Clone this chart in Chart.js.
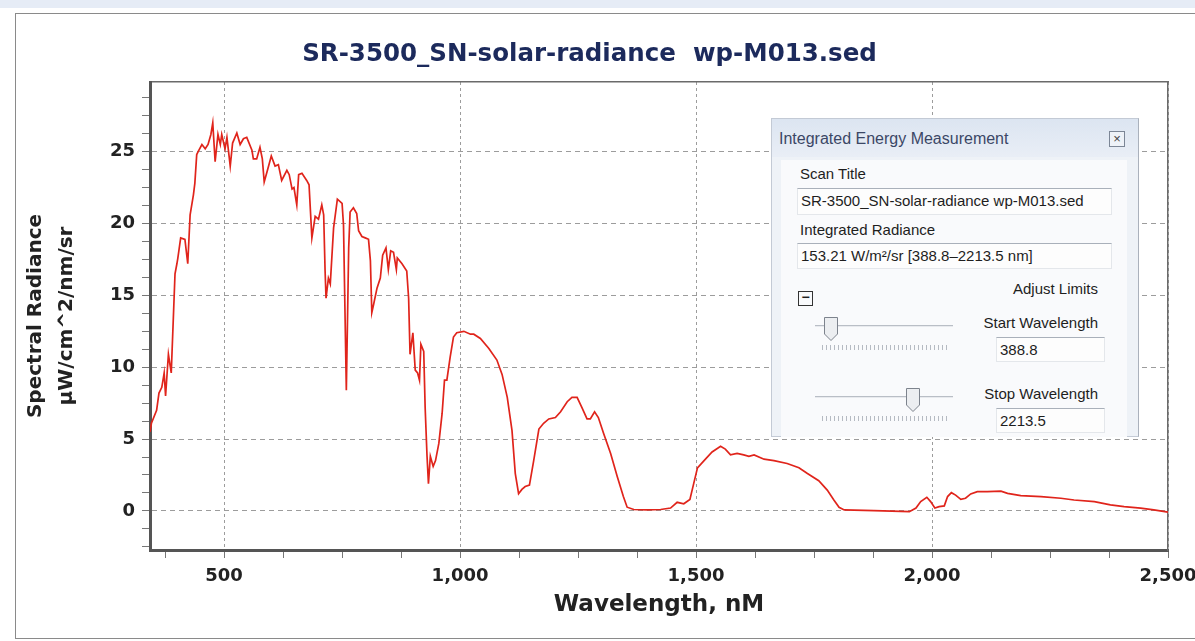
<!DOCTYPE html>
<html>
<head>
<meta charset="utf-8">
<script src="https://cdn.jsdelivr.net/npm/chart.js@4.4.1/dist/chart.umd.min.js"></script>
<style>
  html, body { margin: 0; padding: 0; background: #fff; }
  body { width: 1195px; height: 641px; position: relative; overflow: hidden; }
  .abs { position: absolute; }
  #band { left: 0; top: 0; width: 1195px; height: 8px; background: #e6ecf6; }
  #frame { left: 15px; top: 13px; width: 1200px; height: 624px; border: 1px solid #8a8a8a; background: #fff; }
  #c { position: absolute; left: 0; top: 0; }
  .ui { font-family: "Liberation Sans", Arial, sans-serif; font-size: 15px; color: #1e1e1e; white-space: nowrap; }
  .box { background: #fdfdfd; border: 1px solid #e4e7eb; border-top: 1px solid #a9b0ba; box-sizing: border-box; padding-left: 3px; line-height: 24px; }
  .track { height: 1px; background: #b9bec6; border-bottom: 1px solid #e8eaee; }
  .dots { height: 5px; background: repeating-linear-gradient(90deg, #b5bac2 0 1px, transparent 1px 4px); }
</style>
</head>
<body>
<div id="band" class="abs"></div>
<div id="frame" class="abs"></div>
<canvas id="c" width="1195" height="641"></canvas>

<div class="abs" style="left:771px;top:118px;width:368px;height:319px;background:#eef2f7;border:1px solid #c3cad5;border-right-color:#aab1bc;box-sizing:border-box"></div>
<div class="abs" style="left:772px;top:119px;width:366px;height:38px;background:linear-gradient(#dce5f1,#e9eef6)"></div>
<div class="abs ui" style="left:779px;top:130px;font-size:16px;color:#3b4766">Integrated Energy Measurement</div>
<div class="abs ui" style="left:1109px;top:131px;width:16px;height:16px;border:1px solid #7c8696;background:#eef2f8;box-sizing:border-box;text-align:center;line-height:13px;font-size:13px;color:#444">×</div>
<div class="abs" style="left:781px;top:160px;width:346px;height:277px;background:#f9fafc"></div>

<div class="abs ui" style="left:800px;top:165px">Scan Title</div>
<div class="abs ui box" style="left:797px;top:188px;width:315px;height:27px">SR-3500_SN-solar-radiance wp-M013.sed</div>
<div class="abs ui" style="left:800px;top:221px">Integrated Radiance</div>
<div class="abs ui box" style="left:797px;top:243px;width:315px;height:26px">153.21 W/m²/sr [388.8–2213.5 nm]</div>

<div class="abs ui" style="right:97px;top:280px">Adjust Limits</div>
<div class="abs ui" style="left:798px;top:291px;width:15px;height:15px;border:1px solid #333;box-sizing:border-box;text-align:center;line-height:11px;font-size:14px;font-weight:bold">−</div>

<div class="abs track" style="left:815px;top:325px;width:138px"></div>
<svg class="abs" style="left:823px;top:316px" width="16" height="26"><path d="M1.5 1.5 H14.5 V18 L8 24.5 L1.5 18 Z" fill="#eceef1" stroke="#7d838d" stroke-width="1"/></svg>
<div class="abs dots" style="left:822px;top:345px;width:128px"></div>
<div class="abs ui" style="right:97px;top:314px">Start Wavelength</div>
<div class="abs ui box" style="left:996px;top:337px;width:109px;height:25px">388.8</div>

<div class="abs track" style="left:815px;top:396px;width:138px"></div>
<svg class="abs" style="left:905px;top:387px" width="16" height="26"><path d="M1.5 1.5 H14.5 V18 L8 24.5 L1.5 18 Z" fill="#eceef1" stroke="#7d838d" stroke-width="1"/></svg>
<div class="abs dots" style="left:822px;top:416px;width:128px"></div>
<div class="abs ui" style="right:97px;top:385px">Stop Wavelength</div>
<div class="abs ui box" style="left:996px;top:408px;width:109px;height:25px">2213.5</div>

<script>
// spectrum (nm, µW/cm^2/nm/sr)
const wavelengths = [
  343, 346, 357, 362, 368, 373, 376, 382, 388, 393, 396, 400, 402, 408, 417, 423, 428, 435, 438, 442,
  445, 453, 460, 466, 472, 476, 481, 487, 492, 495, 502, 506, 513, 518, 527, 534, 541, 548, 559, 562,
  569, 576, 581, 585, 591, 600, 608, 615, 622, 633, 638, 644, 648, 654, 658, 665, 675, 680, 686, 693,
  700, 707, 711, 714, 716, 721, 725, 732, 740, 750, 753, 759, 764, 767, 774, 781, 785, 792, 799, 806,
  810, 813, 817, 824, 831, 836, 843, 848, 853, 859, 865, 867, 877, 887, 891, 894, 900, 905, 910, 914,
  917, 923, 926, 930, 933, 937, 943, 948, 955, 962, 967, 972, 979, 986, 993, 1008, 1022, 1029, 1043, 1061,
  1078, 1089, 1100, 1110, 1117, 1124, 1131, 1138, 1147, 1156, 1167, 1177, 1188, 1202, 1213, 1227, 1237, 1248, 1258, 1269,
  1276, 1285, 1293, 1304, 1319, 1333, 1346, 1354, 1368, 1396, 1425, 1446, 1460, 1474, 1487, 1495, 1503, 1517, 1534, 1552,
  1562, 1573, 1587, 1601, 1612, 1623, 1644, 1665, 1693, 1718, 1736, 1760, 1778, 1792, 1803, 1814, 1877, 1952, 1966, 1976,
  1989, 1997, 2006, 2015, 2026, 2033, 2041, 2050, 2061, 2071, 2082, 2096, 2117, 2146, 2160, 2188, 2231, 2273, 2301, 2344,
  2378, 2407, 2442, 2470, 2500
];
const radiance = [
  5.5, 6.1, 7.0, 8.2, 8.6, 9.6, 8.0, 10.9, 9.6, 13.9, 16.5, 17.2, 17.6, 19.0, 18.9, 17.2, 20.6, 22.0, 22.8, 24.8,
  25.0, 25.5, 25.2, 25.5, 26.2, 27.0, 24.3, 26.2, 25.5, 26.2, 25.2, 26.0, 24.0, 25.6, 26.3, 25.5, 25.9, 26.0, 25.1, 24.5,
  24.5, 25.3, 24.5, 22.9, 23.6, 24.7, 24.0, 24.1, 23.0, 23.7, 23.4, 22.4, 22.5, 21.3, 23.4, 23.5, 23.0, 22.7, 19.0, 20.5,
  20.3, 21.3, 20.6, 16.7, 14.8, 16.2, 15.8, 19.7, 21.7, 21.4, 19.9, 8.4, 18.3, 20.8, 21.1, 20.7, 19.5, 19.1, 19.0, 18.9,
  17.4, 13.8, 14.4, 15.5, 16.2, 17.8, 18.3, 16.8, 18.1, 18.0, 16.8, 17.6, 17.2, 16.7, 14.8, 10.9, 12.4, 9.8, 9.6, 9.1,
  11.6, 11.1, 7.2, 3.8, 1.9, 3.8, 3.1, 3.5, 4.7, 6.8, 9.1, 9.1, 10.7, 12.1, 12.4, 12.5, 12.3, 12.3, 12.0, 11.3,
  10.5, 9.5, 7.9, 5.6, 2.6, 1.2, 1.5, 1.7, 1.8, 3.5, 5.7, 6.1, 6.4, 6.5, 6.9, 7.6, 7.9, 7.9, 7.2, 6.4,
  6.4, 6.9, 6.5, 5.4, 4.0, 2.4, 1.0, 0.26, 0.1, 0.07, 0.1, 0.2, 0.6, 0.5, 0.8, 1.9, 3.0, 3.5, 4.1, 4.5,
  4.3, 3.9, 4.0, 3.9, 3.8, 3.9, 3.6, 3.5, 3.3, 3.0, 2.6, 2.1, 1.45, 0.76, 0.25, 0.07, 0.02, -0.05, 0.2, 0.65,
  0.95, 0.65, 0.2, 0.3, 0.35, 1.0, 1.27, 1.1, 0.8, 0.88, 1.18, 1.34, 1.34, 1.38, 1.22, 1.06, 1.0, 0.88, 0.76, 0.65,
  0.42, 0.3, 0.19, 0.07, -0.09
];

const xRange = [343, 2500];
const yRange = [-2.72, 29.85];
const xLabelStep = 500, xMinorStep = 125;
const yLabelStep = 5, yMinorStep = 1.25;

const isMajor = (v, step) => Math.abs(v / step - Math.round(v / step)) < 1e-6;
const bold = size => ({ family: "'DejaVu Sans', Verdana, sans-serif", size: size, weight: 'bold' });

const points = wavelengths.map((w, i) => ({ x: w, y: radiance[i] }));

new Chart(document.getElementById('c'), {
  type: 'line',
  data: {
    datasets: [{
      data: points,
      borderColor: '#e0241b',
      borderWidth: 1.7,
      pointRadius: 0,
      tension: 0,
      fill: false
    }]
  },
  options: {
    responsive: false,
    animation: false,
    layout: { padding: { left: 0, right: 16, top: 0, bottom: 0 } },
    plugins: {
      legend: { display: false },
      tooltip: { enabled: false },
      title: {
        display: true,
        text: 'SR-3500_SN-solar-radiance  wp-M013.sed',
        color: '#1c2a5c',
        font: bold(24.5),
        padding: { top: 40, bottom: 3 }
      }
    },
    scales: {
      x: {
        type: 'linear',
        position: 'bottom',
        min: xRange[0],
        max: xRange[1],
        ticks: {
          stepSize: xMinorStep,
          includeBounds: false,
          autoSkip: false,
          maxRotation: 0,
          padding: 8,
          color: '#222',
          font: bold(18),
          callback: v => isMajor(v, xLabelStep) ? v.toLocaleString('en-US') : ''
        },
        grid: {
          color: ctx => ctx.tick && isMajor(ctx.tick.value, xLabelStep) ? '#9c9c9c' : 'transparent',
          tickColor: '#777',
          tickLength: 8
        },
        border: { color: '#555', width: 3, dash: [3, 3] },
        title: {
          display: true,
          text: 'Wavelength, nM',
          color: '#222',
          font: bold(23),
          padding: { top: 0, bottom: 22 }
        },
        afterFit: s => { s.height = 91; s.paddingLeft = 0; s.paddingRight = 0; }
      },
      xTop: {
        type: 'linear',
        position: 'top',
        min: xRange[0],
        max: xRange[1],
        ticks: { display: false },
        grid: { drawOnChartArea: false, drawTicks: false },
        border: { color: '#6a6a6a', width: 1.5 },
        afterFit: s => { s.height = 9.6; }
      },
      y: {
        type: 'linear',
        position: 'left',
        min: yRange[0],
        max: yRange[1],
        ticks: {
          stepSize: yMinorStep,
          includeBounds: false,
          autoSkip: false,
          padding: 7,
          color: '#222',
          font: bold(18),
          callback: v => isMajor(v, yLabelStep) ? String(Math.round(v)) : ''
        },
        grid: {
          color: ctx => ctx.tick && isMajor(ctx.tick.value, yLabelStep) ? '#9c9c9c' : 'transparent',
          tickColor: '#777',
          tickLength: 8
        },
        border: { color: '#555', width: 3, dash: [5, 4] },
        title: {
          display: true,
          text: ['Spectral Radiance', 'µW/cm^2/nm/sr'],
          color: '#222',
          font: Object.assign(bold(20), { lineHeight: 1.55 }),
          padding: { top: 20, bottom: 0 }
        },
        afterFit: s => { s.width = 150; s.paddingTop = 0; s.paddingBottom = 0; }
      },
      yRight: {
        type: 'linear',
        position: 'right',
        min: yRange[0],
        max: yRange[1],
        ticks: { display: false },
        grid: { drawOnChartArea: false, drawTicks: false },
        border: { color: '#6a6a6a', width: 1.5 },
        afterFit: s => { s.width = 11; }
      }
    }
  }
});
</script>
</body>
</html>
